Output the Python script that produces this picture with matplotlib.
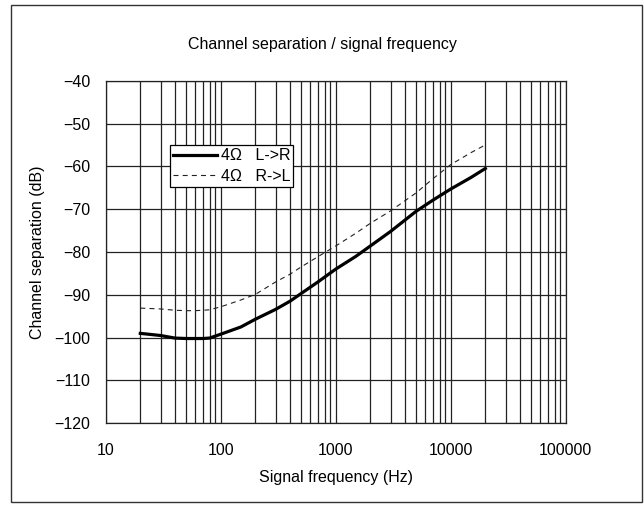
import matplotlib
matplotlib.use("Agg")
import matplotlib.pyplot as plt
from matplotlib.patches import Rectangle
from matplotlib.ticker import FixedLocator, NullFormatter, LogLocator

# Measured channel separation, 4 ohm load
freq_hz = [20, 30, 40, 50, 60, 70, 80, 100, 150, 200, 300, 400, 500, 700,
           1000, 1500, 2000, 3000, 5000, 7000, 10000, 15000, 20000]
sep_l_to_r = [-99.0, -99.5, -100.1, -100.2, -100.2, -100.2, -100.1, -99.2,
              -97.5, -95.7, -93.4, -91.5, -89.7, -87.0, -84.0, -81.0, -78.6,
              -75.2, -70.5, -67.9, -65.3, -62.6, -60.5]
sep_r_to_l = [-93.1, -93.3, -93.6, -93.7, -93.7, -93.6, -93.5, -92.8,
              -91.2, -89.9, -87.0, -85.2, -83.5, -81.1, -78.6, -75.6, -73.3,
              -70.4, -66.2, -62.9, -59.6, -56.8, -55.0]
series_labels = ["4Ω   L->R", "4Ω   R->L"]

x_ticks = [10, 100, 1000, 10000, 100000]
x_tick_labels = ["10", "100", "1000", "10000", "100000"]
y_ticks = [-40, -50, -60, -70, -80, -90, -100, -110, -120]

plt.rcParams["font.family"] = ["Liberation Sans", "DejaVu Sans"]
plt.rcParams["font.size"] = 11.5

W, H, DPI = 644, 505, 100
fig = plt.figure(figsize=(W / DPI, H / DPI), dpi=DPI)
fig.patch.set_facecolor("white")

left, right, top, bottom = 105.7, 565.7, 80.7, 423.3
ax = fig.add_axes([left / W, 1 - bottom / H, (right - left) / W, (bottom - top) / H])

grid_color = "#222222"
ax.set_xscale("log")
ax.set_xlim(10, 100000)
ax.set_ylim(-120, -40)
ax.xaxis.set_major_locator(FixedLocator(x_ticks))
ax.set_xticklabels(x_tick_labels)
ax.xaxis.set_minor_locator(LogLocator(base=10, subs=range(2, 10)))
ax.xaxis.set_minor_formatter(NullFormatter())
ax.set_yticks(y_ticks)
ax.grid(True, which="major", color=grid_color, lw=0.9)
ax.grid(True, which="minor", axis="x", color=grid_color, lw=0.9)
ax.tick_params(which="both", length=0)
ax.tick_params(axis="y", pad=11)
ax.tick_params(axis="x", pad=14)
for s in ax.spines.values():
    s.set_color(grid_color)
    s.set_linewidth(0.9)

ax.plot(freq_hz, sep_l_to_r, color="black", lw=2.3, label=series_labels[0],
        solid_joinstyle="round", zorder=3)
ax.plot(freq_hz, sep_r_to_l, color="#222222", lw=0.8, dashes=(4.5, 3.75),
        label=series_labels[1], zorder=3)

ax.set_xlabel("Signal frequency (Hz)", labelpad=9)
ax.set_ylabel("Channel separation (dB)", labelpad=7)

leg = ax.legend(loc="upper left", bbox_to_anchor=(170 / W, 1 - 145 / H),
                bbox_transform=fig.transFigure, frameon=True, fancybox=False,
                framealpha=1, edgecolor="black", handlelength=2.75,
                handletextpad=0.22, borderpad=0.2, labelspacing=0.35,
                borderaxespad=0)
leg.get_frame().set_linewidth(0.9)

fig.text(0.5, 1 - 44 / H, "Channel separation / signal frequency",
         ha="center", va="center")

fig.add_artist(Rectangle((11 / W, 3 / H), 631 / W, 497 / H,
                         transform=fig.transFigure, fill=False,
                         edgecolor="#333333", lw=1.0))

fig.savefig("out.png", dpi=DPI)
